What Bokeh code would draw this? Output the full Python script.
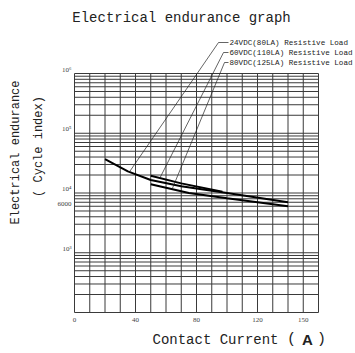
import math
import numpy as np
from bokeh.plotting import figure
from bokeh.models import Range1d
from bokeh.core.properties import value
from bokeh.embed import file_html
from bokeh.resources import INLINE

# ---- data ----
current_ticks = [0, 40, 80, 120, 150]
current_tick_labels = ["0", "40", "80", "120", "150"]
endurance_ticks = [1000, 6000, 10000, 100000, 1000000]
endurance_labels = ["10³", "6000", "10⁴", "10⁵", "10⁶"]
current_grid = list(range(0, 161, 10))
endurance_grid = [k * 10 ** n for n in range(2, 6) for k in range(1, 10)] + [10 ** 6]

a_current = [20, 35, 50, 70, 100, 140]
a_cycles = [37000, 23000, 16500, 13000, 10000, 7000]
b_current = [50, 70, 97]
b_cycles = [19500, 14500, 10500]
c_current = [50, 75, 100, 140]
c_cycles = [14000, 10000, 8200, 6000]

series_names = ["24VDC(80LA) Resistive Load",
                "60VDC(110LA) Resistive Load",
                "80VDC(125LA) Resistive Load"]
leader_current = [36, 56, 64]

# ---- layout helpers (canvas pixel -> data) ----
FX0, FX1, FY0, FY1 = 74, 318, 73, 312
XMIN, XMAX, LMIN, LMAX = 0, 160, 2, 6
def px2x(px):
    return XMIN + (px - FX0) * (XMAX - XMIN) / (FX1 - FX0)
def py2y(py):
    return 10 ** (LMAX - (py - FY0) * (LMAX - LMIN) / (FY1 - FY0))

W, H = 355, 353
p = figure(width=W, height=H, y_axis_type="log",
           x_range=Range1d(px2x(0), px2x(W)), y_range=Range1d(py2y(H), py2y(0)),
           output_backend="svg", toolbar_location=None,
           x_axis_location=None, y_axis_location=None,
           min_border=0, min_border_left=0, min_border_right=0,
           min_border_top=0, min_border_bottom=0)
p.background_fill_color = "white"
p.border_fill_color = "white"
p.outline_line_color = None
p.xgrid.visible = False
p.ygrid.visible = False

GRID = "#3a3a3a"
ymin, ymax = 10 ** LMIN, 10 ** LMAX
p.segment(x0=current_grid, y0=[ymin] * len(current_grid), x1=current_grid, y1=[ymax] * len(current_grid),
          line_color=GRID, line_width=1)
p.segment(x0=[XMIN] * len(endurance_grid), y0=endurance_grid, x1=[XMAX] * len(endurance_grid), y1=endurance_grid,
          line_color=GRID, line_width=1)

# tick labels
p.text(x=current_ticks, y=[py2y(FY1 + 7)] * len(current_ticks), text=current_tick_labels,
       text_font=value("Liberation Serif"), text_font_size="7px", text_color="#444444",
       text_align="center", text_baseline="middle")
p.text(x=[px2x(FX0 - 3)] * len(endurance_ticks), y=endurance_ticks, text=endurance_labels,
       text_font=value("Liberation Serif"), text_font_size="7px", text_color="#444444",
       text_align="right", text_baseline="bottom")

# curves
curves = [(a_current, a_cycles), (b_current, b_cycles), (c_current, c_cycles)]
for xs, ys in curves:
    p.line(xs, ys, line_color="black", line_width=2)

# leader lines + labels
text_y = [42, 52, 62]
bend_x = [218, 223, 224]
text_x = 228
for name, lc, (xs, ys), ty, bx in zip(series_names, leader_current, curves, text_y, bend_x):
    ly = 10 ** np.interp(lc, xs, np.log10(ys))
    p.segment(x0=[px2x(bx), px2x(bx)], y0=[py2y(ty), py2y(ty)],
              x1=[lc, px2x(text_x)], y1=[ly, py2y(ty)],
              line_color="#222222", line_width=0.7)
    p.text(x=[px2x(text_x + 1)], y=[py2y(ty)], text=[name],
           text_font=value("Liberation Mono"), text_font_size="7.6px",
           text_color="#222222", text_baseline="middle", text_align="left")

# titles
def label(px, py, txt, size, font="Liberation Mono", angle=0.0, align="center", style="normal"):
    p.text(x=[px2x(px)], y=[py2y(py)], text=[txt], angle=angle,
           text_font=value(font), text_font_size=size, text_color="#222222",
           text_align=align, text_baseline="middle", text_font_style=style)

label(181, 17, "Electrical endurance graph", "14px")
label(15, 152, "Electrical endurance", "12px", angle=math.pi / 2)
label(38, 146, "( Cycle index)", "12px", angle=math.pi / 2)
label(152, 339, "Contact Current", "14px", align="left")
label(291, 339, "(", "15px")
label(307, 339, "A", "15px", font="Liberation Sans", style="bold")
label(321, 339, ")", "15px")

open("out.html", "w").write(file_html(p, INLINE))
